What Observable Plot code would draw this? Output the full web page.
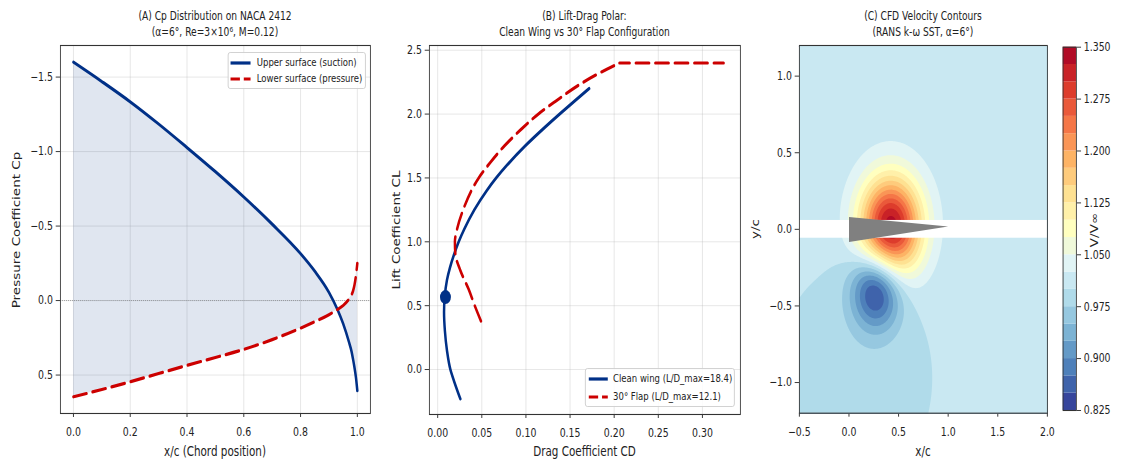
<!DOCTYPE html>
<html>
<head>
<meta charset="utf-8">
<script src="https://cdn.jsdelivr.net/npm/d3@7"></script>
<script src="https://cdn.jsdelivr.net/npm/@observablehq/plot@0.6"></script>
<style>
  html, body { margin: 0; padding: 0; background: #fff; }
  #wrap { position: relative; width: 1129px; height: 459px; overflow: hidden; background: #fff; }
  #inner { position: absolute; left: 0; top: 0; height: 459px; transform-origin: 0 0; }
  #inner svg { position: absolute; left: 0; top: 0; }
</style>
</head>
<body>
<div id="wrap"><div id="inner"></div></div>
<script>
// ---------------- DATA ----------------
// Panel A: pressure distribution
const chordX  = [0, 0.1, 0.2, 0.3, 0.4, 0.5, 0.6, 0.7, 0.8, 0.85, 0.9, 0.93, 0.95, 0.97, 0.98, 0.985, 0.99, 0.995, 1.0];
const cpUpper = [-1.6, -1.47, -1.334, -1.185, -1.027, -0.865, -0.695, -0.513, -0.315, -0.197, -0.055, 0.06, 0.155, 0.275, 0.345, 0.395, 0.45, 0.515, 0.605];
const cpLower = [0.646, 0.597, 0.545, 0.49, 0.435, 0.382, 0.328, 0.262, 0.185, 0.142, 0.095, 0.06, 0.033, -0.008, -0.04, -0.065, -0.105, -0.165, -0.25];
const ticksAx = [0, 0.2, 0.4, 0.6, 0.8, 1.0];
const ticksAy = [-1.5, -1.0, -0.5, 0.0, 0.5];
const seriesA = ["Upper surface (suction)", "Lower surface (pressure)"];

// Panel B: drag polars
const cleanCL = [-0.23, -0.1, 0.0, 0.15, 0.3, 0.45, 0.57, 0.7, 0.8, 0.9, 1.0, 1.1, 1.25, 1.4, 1.5, 1.6, 1.75, 1.9, 2.0, 2.1, 2.2];
const cleanCD = [0.0257, 0.019, 0.0144, 0.0105, 0.0082, 0.0072, 0.0080, 0.0105, 0.0140, 0.0185, 0.0238, 0.0302, 0.0415, 0.0555, 0.0663, 0.0785, 0.0990, 0.1220, 0.1381, 0.1547, 0.1716];
const flapCL  = [0.38, 0.5, 0.63, 0.775, 0.906, 1.0, 1.1, 1.25, 1.5, 1.62, 1.75, 1.88, 2.0, 2.1, 2.245, 2.32, 2.4, 2.4];
const flapCD  = [0.049, 0.042, 0.035, 0.0257, 0.020, 0.0195, 0.022, 0.0288, 0.0465, 0.0595, 0.0755, 0.0945, 0.1140, 0.1335, 0.1640, 0.1830, 0.2060, 0.324];
const markCD  = [0.0088];
const markCL  = [0.567];
const ticksBx = [0, 0.05, 0.10, 0.15, 0.20, 0.25, 0.30];
const ticksBy = [0.0, 0.5, 1.0, 1.5, 2.0, 2.5];
const seriesB = ["Clean wing (L/D_max=18.4)", "30° Flap (L/D_max=12.1)"];

// Panel C: velocity field (background + Gaussian bumps)
const baseSpeed = 1.008;
const bumpX   = [0.42, 0.28, 0.05];
const bumpY   = [0.015, -0.385, -0.97];
const bumpAmp = [0.34, -0.19, -0.02];
const bumpSx  = [0.218, 0.175, 0.583];
const bumpSy  = [0.23, 0.178, 0.539];
const levels  = [0.825, 0.85, 0.875, 0.9, 0.925, 0.95, 0.975, 1.0, 1.025, 1.05, 1.075, 1.1, 1.125, 1.15, 1.175, 1.2, 1.225, 1.25, 1.275, 1.3, 1.325, 1.35];
const cbTicks = [0.825, 0.900, 0.975, 1.050, 1.125, 1.200, 1.275, 1.350];
const ticksCx = [-0.5, 0.0, 0.5, 1.0, 1.5, 2.0];
const ticksCy = [-1.0, -0.5, 0.0, 0.5, 1.0];
const maskY   = [-0.058, 0.058];
const airfoilX = [0.0, 1.0, 0.0];
const airfoilY = [0.08, 0.018, -0.083];
const rdylbu  = ["#a50026","#d73027","#f46d43","#fdae61","#fee090","#ffffbf","#e0f3f8","#abd9e9","#74add1","#4575b4","#313695"];

// ---------------- LAYOUT ----------------
const S = 0.78;               // horizontal squish of the reference picture
const W = 1129, H = 459;
const VW = W / S;
const vx = px => px / S;
const inner = document.getElementById("inner");
inner.style.width = VW + "px";
inner.style.transform = `scaleX(${S})`;

const BLUE = "#003087", RED = "#cc0000", INK = "#222";
const baseStyle = {fontFamily: "DejaVu Sans", fontSize: "12px", color: INK, background: "transparent", overflow: "visible"};
const f1 = d3.format(".1f"), f2 = d3.format(".2f"), f3 = d3.format(".3f");

function frameMargins(l, r, t, b) {
  return {width: VW, height: H, marginLeft: vx(l), marginRight: VW - vx(r), marginTop: t, marginBottom: H - b};
}

// ---------------- PANEL A ----------------
const tableA = chordX.map((x, i) => ({x, upper: cpUpper[i], lower: cpLower[i]}));
const plotA = Plot.plot({
  ...frameMargins(60, 370, 45, 413),
  style: baseStyle,
  x: {domain: [-0.046, 1.046], ticks: ticksAx, tickFormat: f1, label: null, tickSize: 4, tickPadding: 10},
  y: {domain: [-1.712, 0.758], reverse: true, ticks: ticksAy, tickFormat: f1, label: null, tickSize: 5.5, tickPadding: 4},
  marks: [
    Plot.gridX(ticksAx, {stroke: "#b0b0b0", strokeOpacity: 0.35}),
    Plot.gridY(ticksAy, {stroke: "#b0b0b0", strokeOpacity: 0.35}),
    Plot.areaY(tableA, {x: "x", y1: "upper", y2: "lower", fill: BLUE, fillOpacity: 0.12, curve: "monotone-x"}),
    Plot.ruleY([0], {stroke: "#777", strokeWidth: 0.9, strokeDasharray: "1,1.6"}),
    Plot.line(tableA, {x: "x", y: "upper", stroke: BLUE, strokeWidth: 3.2, curve: "monotone-x"}),
    Plot.line(tableA, {x: "x", y: "lower", stroke: RED, strokeWidth: 3.2, strokeDasharray: "17,8", curve: "monotone-x"}),
    Plot.frame({stroke: "#333", strokeWidth: 1.1})
  ]
});
inner.appendChild(plotA);

// ---------------- PANEL B ----------------
const cleanT = cleanCL.map((cl, i) => ({cd: cleanCD[i], cl}));
const flapT = flapCL.map((cl, i) => ({cd: flapCD[i], cl}));
const markT = markCD.map((cd, i) => ({cd, cl: markCL[i]}));
const plotB = Plot.plot({
  ...frameMargins(429, 740, 45, 414),
  style: baseStyle,
  x: {domain: [-0.0094, 0.343], ticks: ticksBx, tickFormat: f2, label: null, tickSize: 4, tickPadding: 10},
  y: {domain: [-0.352, 2.537], ticks: ticksBy, tickFormat: f1, label: null, tickSize: 5.5, tickPadding: 4},
  marks: [
    Plot.gridX(ticksBx, {stroke: "#b0b0b0", strokeOpacity: 0.35}),
    Plot.gridY(ticksBy, {stroke: "#b0b0b0", strokeOpacity: 0.35}),
    Plot.line(cleanT, {x: "cd", y: "cl", stroke: BLUE, strokeWidth: 3.2, curve: "monotone-y"}),
    Plot.line(flapT.slice(0, -1), {x: "cd", y: "cl", stroke: RED, strokeWidth: 3.2, strokeDasharray: "17,8", curve: "monotone-y"}),
    Plot.line(flapT.slice(-2), {x: "cd", y: "cl", stroke: RED, strokeWidth: 3.2, strokeDasharray: "17,8", strokeDashoffset: 4}),
    Plot.dot(markT, {x: "cd", y: "cl", r: 7, fill: BLUE, stroke: "none"}),
    Plot.frame({stroke: "#333", strokeWidth: 1.1})
  ]
});
inner.appendChild(plotB);

// ---------------- PANEL C ----------------
const cmap = d3.piecewise(d3.interpolateRgb, rdylbu.slice().reverse());
const nBands = levels.length - 1;
const bandColors = d3.range(nBands).map(i => cmap((i + 0.5) / nBands));
function speed(x, y) {
  let v = baseSpeed;
  for (let k = 0; k < bumpX.length; k++) {
    const dx = x - bumpX[k], dy = y - bumpY[k];
    v += bumpAmp[k] * Math.exp(-(dx * dx / (2 * bumpSx[k] ** 2) + dy * dy / (2 * bumpSy[k] ** 2)));
  }
  return Math.max(v, levels[0] + 0.001);
}
const airfoilT = airfoilX.map((x, i) => ({x, y: airfoilY[i]}));
const xDomC = [ticksCx[0], ticksCx[ticksCx.length - 1]];
const yDomC = [-1.2, 1.2];
const plotC = Plot.plot({
  ...frameMargins(799, 1047, 45, 412.7),
  style: baseStyle,
  x: {domain: xDomC, ticks: ticksCx, tickFormat: f1, label: null, tickSize: 4, tickPadding: 10},
  y: {domain: yDomC, ticks: ticksCy, tickFormat: f1, label: null, tickSize: 5.5, tickPadding: 4},
  color: {type: "threshold", domain: levels.slice(1, nBands), range: bandColors},
  marks: [
    Plot.contour({value: speed, x1: xDomC[0], x2: xDomC[1], y1: yDomC[0], y2: yDomC[1],
                  thresholds: levels.slice(0, nBands), fill: "value", stroke: "none", pixelSize: 1.5}),
    Plot.rect([maskY], {x1: () => xDomC[0], x2: () => xDomC[1], y1: d => d[0], y2: d => d[1], fill: "white"}),
    Plot.line(airfoilT, {x: "x", y: "y", fill: "#808080", stroke: "none"}),
    Plot.frame({stroke: "#333", strokeWidth: 1.1})
  ]
});
inner.appendChild(plotC);

// colorbar
const cbBands = d3.range(nBands).map(i => ({lo: levels[i], hi: levels[i + 1], color: bandColors[i]}));
const plotCB = Plot.plot({
  ...frameMargins(1062.7, 1076, 46.7, 410),
  style: baseStyle,
  x: {domain: [0, 1], axis: null},
  y: {domain: [levels[0], levels[levels.length - 1]], ticks: cbTicks, tickFormat: f3, axis: "right", label: null, tickSize: 5.5, tickPadding: 4},
  marks: [
    Plot.rect(cbBands, {x1: () => 0, x2: () => 1, y1: "lo", y2: "hi", fill: "color"}),
    Plot.frame({stroke: "#333", strokeWidth: 1.1})
  ]
});
inner.appendChild(plotCB);

// ---------------- TEXT ----------------
function addText(txt, xr, yr, size, rotate = 0) {
  const d = document.createElement("div");
  d.textContent = txt;
  d.style.cssText = `position:absolute;left:${vx(xr)}px;top:${yr}px;transform:translate(-50%,-50%) rotate(${rotate}deg);` +
    `font-family:'DejaVu Sans';font-size:${size}px;color:${INK};white-space:nowrap;line-height:1;`;
  inner.appendChild(d);
}
addText("(A) Cp Distribution on NACA 2412", 215, 16.7, 11.7);
addText("(α=6°, Re=3×10⁶, M=0.12)", 215, 32.7, 11.7);
addText("(B) Lift-Drag Polar:", 584.5, 16.7, 11.7);
addText("Clean Wing vs 30° Flap Configuration", 584.5, 32.7, 11.7);
addText("(C) CFD Velocity Contours", 923, 16.7, 11.7);
addText("(RANS k-ω SST, α=6°)", 923, 32.7, 11.7);

addText("x/c (Chord position)", 215, 452, 13.3);
addText("Pressure Coefficient Cp", 16.5, 230, 13.5, -90);
addText("Drag Coefficient CD", 584.5, 452, 13.3);
addText("Lift Coefficient CL", 396, 230, 13.5, -90);
addText("x/c", 923, 452, 13.3);
addText("y/c", 756, 229, 13.5, -90);
addText("V/V∞", 1095, 230, 13.5, -90);

// ---------------- LEGENDS ----------------
function addLegend(box, entries) {
  const b = document.createElement("div");
  const left = vx(box[0]), w = vx(box[2]) - vx(box[0]);
  b.style.cssText = `position:absolute;left:${left}px;top:${box[1]}px;width:${w}px;height:${box[3] - box[1]}px;` +
    `box-sizing:border-box;border:1px solid #cccccc;border-radius:3px;background:rgba(255,255,255,0.85);`;
  inner.appendChild(b);
  for (const e of entries) {
    const s0 = vx(e.s0) - left, s1 = vx(e.s1) - left;
    const svg = d3.create("svg").attr("width", w).attr("height", 10)
      .style("position", "absolute").style("left", "0px").style("top", (e.y - box[1] - 5 - 1) + "px").style("overflow", "visible");
    svg.append("line").attr("x1", s0).attr("x2", s1).attr("y1", 5).attr("y2", 5)
      .attr("stroke", e.color).attr("stroke-width", 3.2).attr("stroke-dasharray", e.dash || null);
    b.appendChild(svg.node());
    const t = document.createElement("div");
    t.textContent = e.label;
    t.style.cssText = `position:absolute;left:${vx(e.t) - left}px;top:${e.y - box[1] - 1}px;transform:translateY(-50%);` +
      `font-family:'DejaVu Sans';font-size:10.9px;color:${INK};white-space:nowrap;line-height:1;`;
    b.appendChild(t);
  }
}
addLegend([228, 52, 366, 89], [
  {label: seriesA[0], color: BLUE, y: 62.7, s0: 230, s1: 250, t: 256},
  {label: seriesA[1], color: RED, y: 79.3, s0: 230, s1: 250, t: 256, dash: "12,5"}
]);
addLegend([585, 368, 735, 407], [
  {label: seriesB[0], color: BLUE, y: 379, s0: 588, s1: 607, t: 612.3},
  {label: seriesB[1], color: RED, y: 397.3, s0: 588, s1: 607, t: 612.3, dash: "12,5"}
]);
</script>
</body>
</html>
